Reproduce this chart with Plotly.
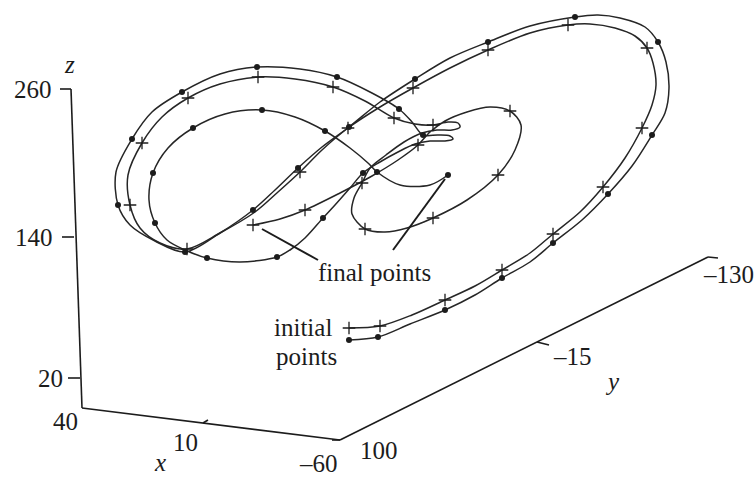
import plotly.graph_objects as go

# Two trajectories of the same system, shown as a projected 3-D view.
# Coordinates are in the drawing plane (x to the right, y downward).

plus_path_x = [349, 380, 412, 445, 475, 502, 530, 553, 580, 603, 625, 642, 652, 656, 653, 647,
               635, 615, 590, 568, 530, 488, 450, 413, 380, 348, 322, 300, 278, 255, 220, 187,
               160, 140, 130, 128, 142, 162, 188, 220, 258, 295, 333, 365, 394, 415, 433, 448,
               458, 460, 452, 437, 422, 404, 386, 370, 362, 354, 352, 365, 385, 407, 433, 467,
               498, 515, 521, 510, 490, 467, 445, 430, 418, 398, 372, 340, 305, 280, 253]
plus_path_y = [328, 326, 315, 300, 286, 270, 253, 234, 212, 187, 158, 128, 105, 85, 63, 48,
               36, 28, 24, 25, 33, 50, 68, 88, 107, 128, 150, 172, 192, 212, 233, 249,
               243, 228, 205, 175, 143, 117, 98, 84, 77, 79, 87, 101, 118, 124, 125, 122,
               123, 127, 130, 130, 133, 142, 155, 168, 183, 198, 214, 229, 232, 228, 218, 200,
               175, 150, 125, 111, 107, 112, 121, 132, 145, 160, 176, 193, 210, 219, 225]

plus_mark_x = [349, 380, 445, 502, 553, 603, 642, 647, 568, 488, 413, 348, 300, 187, 130, 142,
               188, 258, 333, 394, 433, 362, 365, 433, 498, 510, 418, 305, 253]
plus_mark_y = [328, 326, 300, 270, 234, 187, 128, 48, 25, 50, 88, 128, 172, 249, 205, 143,
               98, 77, 87, 118, 125, 183, 229, 218, 175, 111, 145, 210, 225]

dot_path_x = [349, 378, 410, 445, 475, 502, 530, 553, 582, 608, 632, 652, 665, 669, 666, 658,
              645, 620, 598, 575, 530, 488, 450, 415, 380, 349, 322, 298, 275, 253, 220, 185,
              155, 130, 118, 116, 132, 152, 182, 220, 257, 300, 337, 370, 399, 412, 423, 438,
              450, 453, 445, 430, 415, 398, 380, 363, 350, 335, 323, 305, 290, 277, 240, 207,
              185, 167, 155, 149, 153, 168, 193, 225, 262, 295, 325, 350, 368, 377, 400, 430, 448]
dot_path_y = [340, 337, 324, 310, 295, 278, 262, 243, 220, 194, 166, 135, 113, 88, 62, 42,
              27, 18, 15, 17, 26, 42, 58, 79, 102, 127, 147, 168, 190, 210, 233, 252,
              241, 225, 205, 172, 139, 112, 92, 74, 67, 69, 77, 92, 109, 122, 135, 135,
              136, 139, 141, 141, 144, 152, 162, 173, 188, 205, 218, 238, 250, 257, 262, 258,
              250, 240, 223, 200, 173, 148, 128, 114, 110, 117, 131, 148, 163, 172, 185, 185, 175]

dot_mark_x = [349, 378, 445, 502, 553, 608, 652, 658, 575, 488, 415, 349, 298, 253, 185, 118,
              132, 182, 257, 337, 399, 423, 363, 323, 277, 207, 155, 153, 193, 262, 325, 377, 448]
dot_mark_y = [340, 337, 310, 278, 243, 194, 135, 42, 17, 42, 79, 127, 168, 210, 252, 205,
              139, 92, 67, 77, 109, 135, 173, 218, 257, 258, 223, 173, 128, 110, 131, 172, 175]

# Axis tick labels
z_ticks = ["260", "140", "20"]
x_ticks = ["40", "10", "\u201360"]
y_ticks = ["100", "\u201315", "\u2013130"]

INK = "#1c1c1c"
FONT = "Liberation Serif"

fig = go.Figure()

# Box axes of the 3-D frame
axis_segments = [
    ([71, 82], [89, 408]),      # z axis
    ([82, 340], [408, 440]),    # x axis
    ([340, 708], [440, 257]),   # y axis
    # tick marks
    ([60, 71], [89, 89]), ([62, 74], [237, 237]), ([68, 80], [378, 378]),
    ([203, 208], [423, 420]),
    ([332, 340], [440, 440]), ([537, 549], [342, 345]), ([708, 718], [257, 258]),
]
for sx, sy in axis_segments:
    fig.add_trace(go.Scatter(x=sx, y=sy, mode="lines",
                             line=dict(color=INK, width=1.6), hoverinfo="skip"))

# Trajectories
line_style = dict(color="#262626", width=1.5, shape="spline", smoothing=0.9)
fig.add_trace(go.Scatter(x=plus_path_x, y=plus_path_y, mode="lines", line=line_style))
fig.add_trace(go.Scatter(x=dot_path_x, y=dot_path_y, mode="lines", line=line_style))

fig.add_trace(go.Scatter(x=plus_mark_x, y=plus_mark_y, mode="markers",
                         marker=dict(symbol="cross-thin", size=9,
                                     line=dict(color=INK, width=1.3))))
fig.add_trace(go.Scatter(x=dot_mark_x, y=dot_mark_y, mode="markers",
                         marker=dict(symbol="circle", size=6, color=INK)))

# Leader lines from the final points to their label
label_final = (318, 260)
label_final_r = (393, 250)
fig.add_trace(go.Scatter(x=[plus_path_x[-1] + 9, label_final[0]],
                         y=[plus_path_y[-1] + 4, label_final[1]],
                         mode="lines", line=dict(color=INK, width=2)))
fig.add_trace(go.Scatter(x=[dot_path_x[-1] - 3, label_final_r[0]],
                         y=[dot_path_y[-1] + 4, label_final_r[1]],
                         mode="lines", line=dict(color=INK, width=2)))

def label(text, x, y, xanchor="center", yanchor="middle", italic=False, size=25):
    fig.add_annotation(x=x, y=y, text=f"<i>{text}</i>" if italic else text,
                       showarrow=False, xanchor=xanchor, yanchor=yanchor,
                       font=dict(family=FONT, size=size, color=INK))

for t, yy, xr in zip(z_ticks, [89, 237, 378], [54, 55, 65]):
    label(t, xr, yy, xanchor="right")
for t, (xx, yy) in zip(x_ticks, [(65, 421), (185, 442), (318, 463)]):
    label(t, xx, yy)
for t, (xx, yy) in zip(y_ticks, [(379, 450), (572, 356), (728, 274)]):
    label(t, xx, yy)

label("z", 69, 64, italic=True)
label("x", 160, 478, yanchor="bottom", italic=True)
label("y", 612, 381, italic=True)
label("final points", 374, 272)
label("initial", 272, 327, xanchor="left")
label("points", 274, 356, xanchor="left")

fig.update_layout(
    width=755, height=478,
    margin=dict(l=0, r=0, t=0, b=0, pad=0),
    paper_bgcolor="white", plot_bgcolor="white",
    showlegend=False,
    xaxis=dict(range=[0, 755], visible=False, fixedrange=True),
    yaxis=dict(range=[478, 0], visible=False, fixedrange=True),
)

fig.write_html("out.html")
